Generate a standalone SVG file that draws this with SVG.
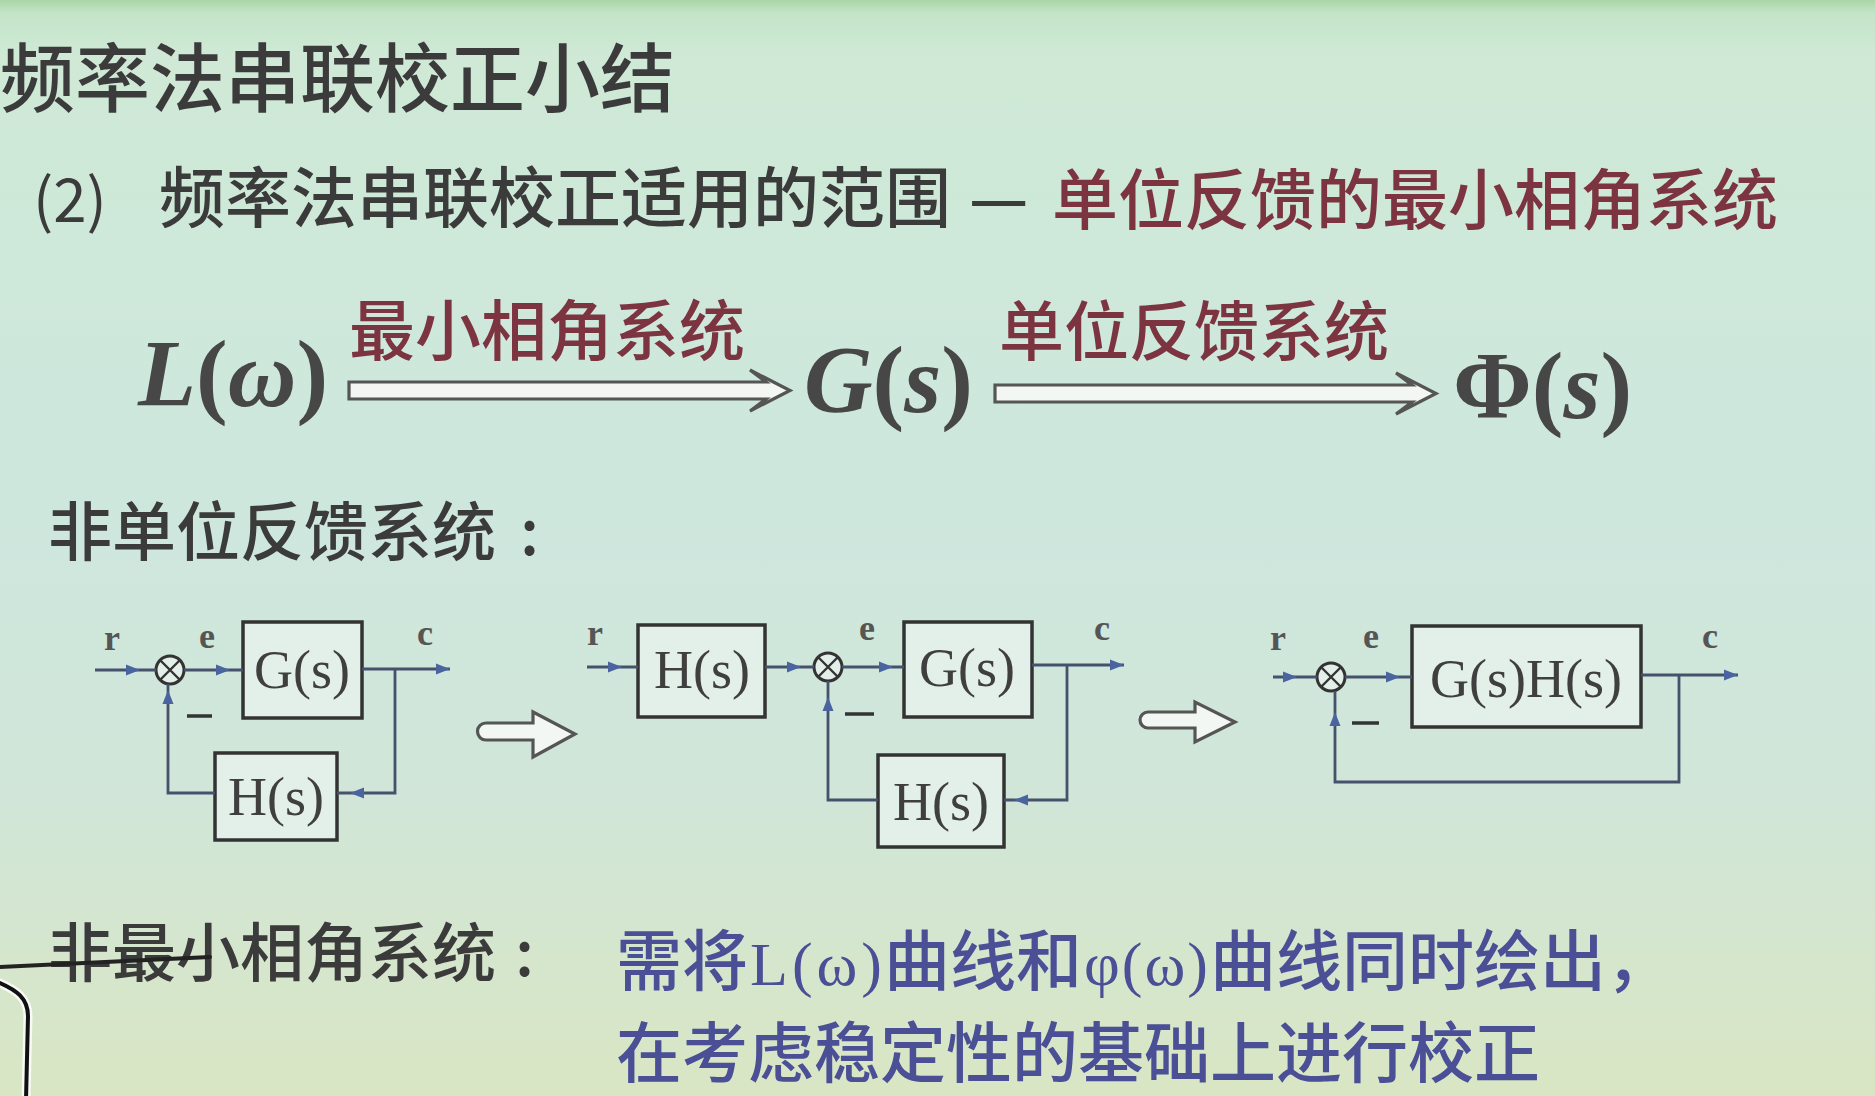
<svg xmlns="http://www.w3.org/2000/svg" xmlns:xlink="http://www.w3.org/1999/xlink" width="1875" height="1096" viewBox="0 0 1875 1096">
  <defs>
    <linearGradient id="bg" x1="0" y1="0" x2="0" y2="1">
      <stop offset="0" stop-color="#a9d6a6"/>
      <stop offset="0.012" stop-color="#c4e4c8"/>
      <stop offset="0.05" stop-color="#cfe9d6"/>
      <stop offset="0.45" stop-color="#cee7de"/>
      <stop offset="0.72" stop-color="#d1e6d9"/>
      <stop offset="1" stop-color="#d9e6c4"/>
    </linearGradient>
    <!-- small filled arrowhead, tip at origin, pointing +x -->
    <path id="ah" d="M0,0 L-14,-5.5 L-14,5.5 Z" fill="#4a64a0"/>
    <style>
      .cjk { font-family: "Noto Sans CJK SC", "Noto Sans", sans-serif; font-weight: 500; }
      .dark { fill: #3b3b3b; }
      .red { fill: #7c3440; }
      .blue { fill: #4a4f96; }
      .math { font-family: "Liberation Serif", "DejaVu Serif", serif; font-weight: bold; fill: #474747; }
      .sig { font-family: "Liberation Serif", "DejaVu Serif", serif; font-weight: bold; font-size: 36px; fill: #555; text-anchor: middle; }
      .blk { fill: #e3efe9; stroke: #333; stroke-width: 3.5; }
      .blkt { font-family: "Liberation Serif", "DejaVu Serif", serif; font-size: 54px; fill: #3f3f3f; text-anchor: middle; }
      .wire { fill: none; stroke: #46516c; stroke-width: 2.8; }
      .sum { fill: #e3efe9; stroke: #333; stroke-width: 3; }
      .cross { stroke: #333; stroke-width: 2.4; }
      .minus { stroke: #333; stroke-width: 3.5; }
      .hollow { fill: #f2f7f3; stroke: #555; stroke-width: 3.2; stroke-linejoin: miter; }
    </style>
  </defs>

  <rect x="0" y="0" width="1875" height="1096" fill="url(#bg)"/>

  <!-- heading -->
  <text class="cjk dark" x="0" y="106" font-size="75">频率法串联校正小结</text>
  <text class="cjk dark" x="33" y="222" font-size="60" style="font-weight:400">(2)</text>
  <text class="cjk dark" x="159" y="222" font-size="66">频率法串联校正适用的范围</text>
  <text class="cjk dark" x="969" y="222" font-size="66">—</text>
  <text class="cjk red" x="1052" y="224" font-size="66">单位反馈的最小相角系统</text>

  <!-- L(w) => G(s) => Phi(s) -->
  <g id="eq-L">
    <text class="math" x="138" y="406" font-size="95"><tspan font-style="italic">L</tspan>(<tspan font-style="italic">ω</tspan>)</text>
  </g>
  <g id="eq-G">
    <text class="math" x="804" y="412" font-size="95"><tspan font-style="italic">G</tspan>(<tspan font-style="italic">s</tspan>)</text>
  </g>
  <g id="eq-Phi">
    <text class="math" x="1453" y="418" font-size="95">Φ(<tspan font-style="italic">s</tspan>)</text>
  </g>
  <g id="eq-arrows">
    <polygon class="hollow" points="349,382 766,382 750,370 790,390.5 750,411 766,399 349,399"/>
    <text class="cjk red" x="349" y="355" font-size="66">最小相角系统</text>
    <polygon class="hollow" points="995,385 1412,385 1396,373 1436,393.5 1396,414 1412,402 995,402"/>
    <text class="cjk red" x="999" y="355" font-size="65">单位反馈系统</text>
  </g>

  <text class="cjk dark" x="48" y="555" font-size="64">非单位反馈系统</text>
  <text class="cjk dark" x="520" y="555" font-size="64">:</text>

  <!-- block diagram 1: G(s) forward, H(s) feedback -->
  <g id="d1-sum">
    <circle class="sum" cx="170" cy="670" r="14"/>
    <path class="cross" d="M160,660 L180,680 M180,660 L160,680"/>
  </g>
  <g id="d1-G">
    <rect class="blk" x="243" y="622" width="119" height="96"/>
    <text class="blkt" x="302" y="688" font-size="52">G(s)</text>
  </g>
  <g id="d1-H">
    <rect class="blk" x="215" y="753" width="122" height="87"/>
    <text class="blkt" x="276" y="815">H(s)</text>
  </g>
  <g id="d1-labels">
    <text class="sig" x="112" y="650">r</text>
    <text class="sig" x="207" y="648">e</text>
    <text class="sig" x="425" y="645">c</text>
    <line class="minus" x1="187" y1="716" x2="212" y2="716"/>
  </g>

  <!-- block diagram 2: H(s) moved ahead of the loop -->
  <g id="d2-Hin">
    <rect class="blk" x="638" y="625" width="127" height="92"/>
    <text class="blkt" x="702" y="688">H(s)</text>
  </g>
  <g id="d2-sum">
    <circle class="sum" cx="828" cy="667" r="14"/>
    <path class="cross" d="M818,657 L838,677 M838,657 L818,677"/>
  </g>
  <g id="d2-G">
    <rect class="blk" x="904" y="622" width="128" height="95"/>
    <text class="blkt" x="967" y="686">G(s)</text>
  </g>
  <g id="d2-H">
    <rect class="blk" x="878" y="755" width="126" height="92"/>
    <text class="blkt" x="941" y="820">H(s)</text>
  </g>
  <g id="d2-labels">
    <text class="sig" x="595" y="645">r</text>
    <text class="sig" x="867" y="640">e</text>
    <text class="sig" x="1102" y="640">c</text>
    <line class="minus" x1="845" y1="714" x2="874" y2="714"/>
  </g>

  <!-- block diagram 3: equivalent unity feedback -->
  <g id="d3-sum">
    <circle class="sum" cx="1331" cy="677" r="14"/>
    <path class="cross" d="M1321,667 L1341,687 M1341,667 L1321,687"/>
  </g>
  <g id="d3-GH">
    <rect class="blk" x="1412" y="626" width="229" height="101"/>
    <text class="blkt" x="1526" y="697" font-size="57">G(s)H(s)</text>
  </g>
  <g id="d3-labels">
    <text class="sig" x="1278" y="650">r</text>
    <text class="sig" x="1371" y="648">e</text>
    <text class="sig" x="1710" y="648">c</text>
    <line class="minus" x1="1352" y1="723" x2="1379" y2="723"/>
  </g>

  <!-- transformation arrows between the diagrams -->
  <g id="step1">
    <path class="hollow" d="M486,723 H533 V712 L575,734 L533,757 V740 H486 A8.5,8.5 0 0 1 486,723 Z"/>
  </g>
  <g id="step2">
    <path class="hollow" d="M1148,712 H1195 V702 L1235,722 L1195,742 V728 H1148 A8,8 0 0 1 1148,712 Z"/>
  </g>

  <!-- signal wires -->
  <g id="connectors">
    <!-- diagram 1 -->
    <path class="wire" d="M95,670 H156"/>
    <use href="#ah" transform="translate(140,670)"/>
    <path class="wire" d="M184,670 H243"/>
    <use href="#ah" transform="translate(230,670)"/>
    <path class="wire" d="M362,669 H450"/>
    <use href="#ah" transform="translate(450,669)"/>
    <path class="wire" d="M395,669 V793 H337"/>
    <use href="#ah" transform="translate(350,793) rotate(180)"/>
    <path class="wire" d="M215,793 H168 V684"/>
    <use href="#ah" transform="translate(168,690) rotate(-90)"/>

    <!-- diagram 2 -->
    <path class="wire" d="M587,667 H638"/>
    <use href="#ah" transform="translate(622,667)"/>
    <path class="wire" d="M765,667 H814"/>
    <use href="#ah" transform="translate(801,667)"/>
    <path class="wire" d="M842,667 H904"/>
    <use href="#ah" transform="translate(893,667)"/>
    <path class="wire" d="M1032,665 H1124"/>
    <use href="#ah" transform="translate(1124,665)"/>
    <path class="wire" d="M1067,665 V800 H1004"/>
    <use href="#ah" transform="translate(1014,800) rotate(180)"/>
    <path class="wire" d="M878,800 H828 V681"/>
    <use href="#ah" transform="translate(828,697) rotate(-90)"/>

    <!-- diagram 3 -->
    <path class="wire" d="M1273,677 H1317"/>
    <use href="#ah" transform="translate(1297,677)"/>
    <path class="wire" d="M1345,677 H1412"/>
    <use href="#ah" transform="translate(1400,677)"/>
    <path class="wire" d="M1641,675 H1738"/>
    <use href="#ah" transform="translate(1738,675)"/>
    <path class="wire" d="M1679,675 V782 H1335 V691"/>
    <use href="#ah" transform="translate(1335,712) rotate(-90)"/>
  </g>

  <!-- non-minimum-phase note -->
  <text class="cjk dark" x="48" y="976" font-size="64">非最小相角系统</text>
  <text class="cjk dark" x="515" y="976" font-size="64">:</text>
  <g class="cjk blue" font-size="66">
    <text x="616" y="985">需将</text>
    <text class="math" x="750" y="985" font-size="62" textLength="132" lengthAdjust="spacing" style="fill:#4a4f96;font-weight:normal">L(ω)</text>
    <text x="884" y="985">曲线和</text>
    <text class="math" x="1084" y="985" font-size="62" textLength="124" lengthAdjust="spacing" style="fill:#4a4f96;font-weight:normal">φ(ω)</text>
    <text x="1210" y="985">曲线同时绘出，</text>
    <text x="616" y="1077">在考虑稳定性的基础上进行校正</text>
  </g>

  <!-- pen strokes over the slide -->
  <g id="pen" fill="none" stroke-linecap="round">
    <path d="M0,983 C16,990 28,998 28,1016 L26,1100" stroke="#ffffff" stroke-width="9" opacity="0.8"/>
    <path d="M0,983 C16,990 28,998 28,1016 L26,1100" stroke="#111" stroke-width="4"/>
    <path d="M-2,967 L210,957" stroke="#222" stroke-width="4"/>
  </g>
</svg>
